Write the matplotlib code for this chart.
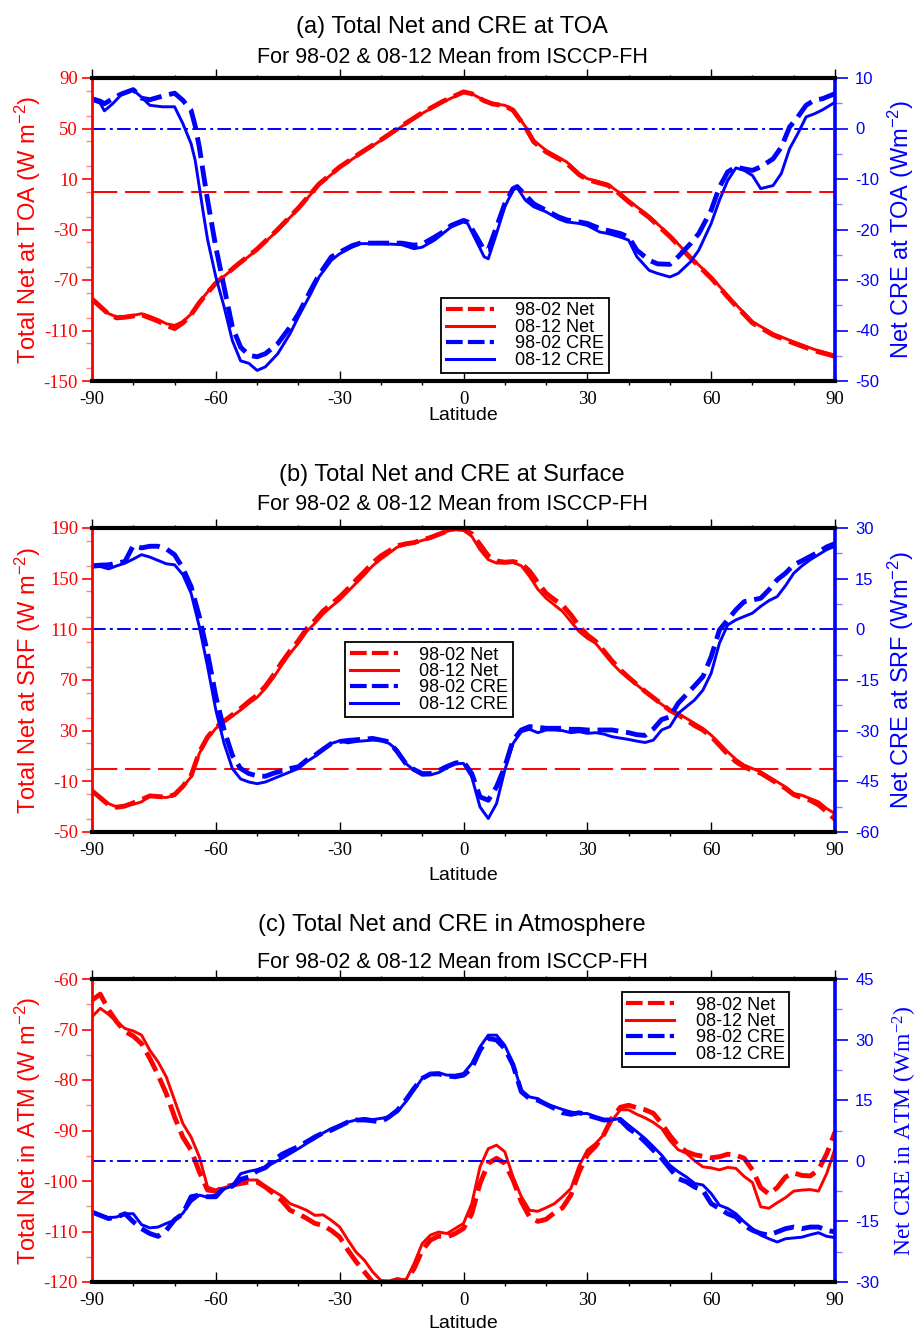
import matplotlib
matplotlib.use('Agg')
import matplotlib.pyplot as plt
from matplotlib.lines import Line2D
from matplotlib.ticker import MultipleLocator

# ---------------- data ----------------
lat_a_net = [-90, -88, -86, -84, -82, -80, -78, -76, -74, -72, -70, -68, -66, -64, -62, -60,
             -55, -50, -45, -40, -35, -30, -25, -20, -15, -10, -5,
             0, 2, 5, 7, 10, 12, 15, 17, 20, 25, 28, 30, 35, 37, 40, 45, 50, 55, 60, 65, 70,
             75, 80, 85, 90]
net_a_9802 = [-85, -91, -97, -100, -99.5, -98.5, -97.5, -100, -102.5, -106, -108.5, -104, -97.5, -88, -80, -72.5,
              -58.5, -45.5, -30, -13, 6, 19.5, 30.5, 41, 52, 62.5, 71.5,
              79, 77.5, 72, 69.5, 68, 64.5, 51, 39.5, 31.5, 22.5, 13.5, 9.5, 5, 0.5, -8, -20.5, -35.5,
              -52.5, -68.5, -87, -104, -113.5, -120, -126, -130.5]
net_a_0812 = [-86, -92, -96.6, -99.3, -98.8, -98, -96.7, -98.8, -101.4, -104.6, -106, -103, -97, -87.4, -79.5, -72.4,
              -59, -46, -30.6, -13.5, 5.5, 19, 30, 40.6, 51.5, 62, 71,
              78.5, 77.5, 72.3, 69.7, 68.4, 65, 51.5, 40.6, 32.7, 23.5, 14.2, 10.3, 5.8, 1, -7, -19.6, -34.6,
              -51.8, -67.6, -86, -103, -112.5, -119, -125, -129.6]

lat_a_cre = [-90, -88, -87, -85, -83, -80, -78, -76, -73, -70,
             -68, -66, -65, -64, -63, -62, -60, -58, -56, -54,
             -52, -50, -48, -45, -42, -40, -37, -35, -32, -30,
             -27, -25, -20, -15, -12, -10, -7, -5, -3, 0,
             1, 3, 5, 6, 8, 10, 12, 13, 15, 17,
             20, 23, 25, 28, 30, 33, 35, 38, 40, 42,
             45, 47, 50, 52, 55, 57, 60, 62, 64, 66,
             68, 70, 72, 75, 77, 79, 81, 83, 85, 87, 90]
cre_a_9802 = [5.9, 5.4, 4.9, 5.9, 6.8, 7.7, 6.0, 5.7, 6.4, 7.0,
              5.6, 3.6, 0.5, -3.7, -9.0, -14.2, -23.5, -31.4, -39.3, -43.3,
              -44.9, -45.2, -44.6, -42.6, -39.3, -36.7, -32.0, -29.0, -25.4, -24.5,
              -23.2, -22.7, -22.7, -22.7, -23.1, -22.9, -21.5, -20.5, -19.2, -18.2,
              -18.5, -21.2, -24.1, -24.0, -19.5, -14.9, -11.9, -11.5, -13.2, -14.9,
              -16.2, -17.5, -18.1, -18.5, -18.8, -19.8, -20.2, -20.8, -21.5, -24.1,
              -26.1, -26.8, -26.9, -25.4, -22.8, -20.8, -16.2, -11.6, -8.6, -7.6,
              -8.0, -8.3, -7.6, -6.0, -3.7, 0.3, 2.3, 4.6, 5.6, 5.9, 6.9]
cre_a_0812 = [5.6, 5.0, 3.5, 4.9, 6.6, 7.6, 6.2, 4.6, 4.3, 4.3,
              1.0, -3.0, -6.3, -11.6, -16.9, -22.0, -29.4, -35.3, -42.0, -46.0,
              -46.5, -47.9, -47.2, -44.6, -40.6, -37.3, -32.7, -29.4, -26.1, -24.8,
              -23.5, -22.8, -22.8, -23.0, -23.8, -23.5, -22.1, -20.8, -19.5, -18.5,
              -18.8, -22.1, -25.4, -25.8, -20.8, -15.5, -12.2, -11.7, -14.2, -15.5,
              -16.5, -17.9, -18.5, -18.8, -19.2, -20.5, -20.8, -21.5, -22.1, -25.4,
              -28.1, -28.7, -29.4, -28.7, -26.4, -24.1, -18.8, -14.2, -10.3, -7.8,
              -8.3, -9.3, -11.9, -11.3, -8.9, -4.0, -1.0, 2.3, 2.9, 3.7, 5.2]

# panels (b) and (c) on a 2-degree grid
lat2 = list(range(-90, 91, 2))

net_b_9802 = [-17.5, -23.0, -28.5, -30.5, -29.5, -27.0, -24.5, -21.5, -22.0, -22.5,
              -20.5, -14.0, -5.5, 13.0, 25.0, 32.5, 37.5, 42.5, 47.5, 53.0,
              58.0, 65.0, 74.0, 84.0, 93.0, 101.0, 110.5, 117.0, 124.5, 130.0,
              135.5, 142.0, 149.0, 155.5, 162.5, 168.0, 172.0, 176.0, 177.5, 178.5,
              180.5, 182.5, 185.0, 187.5, 189.5, 189.0, 185.5, 177.0, 168.0, 164.0,
              163.0, 163.5, 162.0, 156.0, 147.0, 138.5, 133.5, 129.0, 121.5, 112.5,
              105.5, 100.5, 93.0, 85.0, 78.0, 72.0, 66.5, 61.0, 56.0, 51.0,
              46.0, 42.5, 38.5, 34.0, 30.5, 25.5, 18.5, 11.5, 5.5, 1.5,
              -1.5, -3.5, -7.5, -11.5, -15.5, -20.5, -23.0, -25.0, -28.5, -34.0,
              -40.0]
net_b_0812 = [-18.3, -22.3, -27.6, -30.2, -28.9, -28.1, -26.2, -21.8, -22.3, -22.8,
              -21.0, -14.4, -6.5, 12.0, 24.0, 31.8, 37.0, 41.5, 46.3, 51.6,
              56.3, 63.4, 72.1, 81.9, 91.1, 99.0, 108.3, 114.8, 122.2, 128.0,
              133.3, 139.9, 146.5, 153.1, 160.2, 165.5, 170.2, 175.0, 176.8, 178.1,
              180.2, 182.1, 184.7, 187.4, 188.7, 188.2, 183.4, 172.9, 165.0, 162.3,
              162.3, 162.8, 160.2, 151.8, 141.7, 134.6, 129.3, 124.1, 116.2, 108.3,
              103.0, 99.0, 91.1, 83.2, 76.6, 71.3, 66.1, 60.8, 55.5, 50.8,
              46.3, 43.7, 39.7, 35.7, 31.8, 26.5, 19.9, 13.3, 7.3, 2.8,
              0.1, -2.5, -6.5, -10.4, -14.4, -19.6, -21.0, -23.6, -26.2, -31.5,
              -35.5]
cre_b_9802 = [18.8, 19.0, 19.1, 19.6, 20.1, 24.8, 24.1, 24.6, 24.6, 23.8,
              22.1, 18.1, 12.7, 3.8, -7.1, -19.9, -29.8, -37.3, -41.2, -42.7,
              -43.4, -43.5, -42.6, -41.9, -41.2, -40.7, -38.7, -37.3, -35.5, -33.8,
              -33.2, -32.9, -32.7, -32.5, -32.3, -32.8, -33.3, -36.3, -39.7, -41.5,
              -42.7, -42.7, -41.8, -40.6, -39.6, -39.2, -42.7, -49.6, -50.6, -46.6,
              -40.7, -32.8, -29.8, -28.8, -29.0, -29.3, -29.3, -29.3, -29.6, -29.6,
              -29.8, -29.8, -29.8, -29.8, -30.2, -30.6, -31.2, -31.4, -29.5, -26.7,
              -25.9, -21.9, -19.3, -16.7, -14.0, -8.1, -0.2, 2.8, 5.8, 8.2,
              8.7, 9.2, 11.7, 14.7, 16.6, 19.1, 20.3, 21.6, 22.9, 24.4,
              25.4]
cre_b_0812 = [18.4, 18.6, 17.9, 18.8, 19.6, 20.8, 22.1, 21.4, 20.4, 19.4,
              19.1, 16.2, 10.7, 0.8, -11.0, -23.9, -33.8, -41.2, -44.3, -45.2,
              -45.7, -45.2, -44.2, -43.2, -42.2, -41.2, -39.2, -37.6, -35.8, -33.8,
              -33.0, -33.6, -33.2, -33.0, -32.8, -32.8, -33.8, -35.8, -39.7, -41.7,
              -43.2, -43.1, -42.4, -41.0, -39.8, -39.7, -43.7, -52.6, -56.0, -51.6,
              -41.7, -33.8, -30.3, -29.6, -30.6, -29.8, -29.8, -30.0, -30.6, -30.3,
              -30.8, -30.6, -31.0, -31.8, -32.2, -32.6, -33.1, -33.5, -32.8, -29.8,
              -28.8, -24.9, -22.9, -20.9, -18.0, -13.0, -4.1, 1.3, 2.8, 3.8,
              4.8, 6.8, 8.5, 9.7, 12.9, 16.6, 18.8, 20.6, 22.1, 23.6,
              24.6]

net_c_9802 = [-64.2, -63.0, -66.1, -68.5, -70.4, -71.3, -72.8, -75.7, -79.0, -82.7,
              -87.3, -91.3, -93.9, -98.2, -101.8, -102.0, -101.2, -100.8, -100.5, -100.2,
              -100.2, -101.2, -102.5, -103.9, -105.8, -106.5, -107.4, -108.4, -108.8, -109.8,
              -111.1, -113.7, -116.0, -118.0, -120.0, -120.3, -120.1, -120.0, -119.7, -117.4,
              -113.7, -111.7, -110.9, -111.1, -110.4, -109.4, -106.5, -100.5, -96.5, -95.5,
              -96.5, -99.8, -104.1, -107.1, -108.0, -107.6, -106.3, -105.3, -102.8, -98.2,
              -94.8, -93.1, -90.8, -87.5, -85.4, -85.0, -85.5, -85.9, -86.6, -88.6,
              -91.0, -93.0, -94.2, -94.8, -95.1, -95.4, -95.2, -94.7, -94.9, -95.5,
              -97.8, -101.3, -102.6, -101.3, -99.2, -98.4, -98.9, -99.0, -97.8, -94.6,
              -90.3]
net_c_0812 = [-67.5, -65.8, -67.0, -68.5, -69.8, -70.3, -71.1, -74.1, -76.4, -79.4,
              -84.0, -88.6, -91.3, -95.2, -101.2, -101.8, -101.3, -100.9, -100.6, -99.8,
              -99.8, -101.0, -102.0, -103.0, -104.5, -105.1, -105.8, -106.8, -106.7, -107.8,
              -109.1, -111.7, -114.1, -115.7, -118.0, -119.7, -119.8, -119.3, -119.7, -116.4,
              -112.4, -110.7, -110.1, -110.4, -109.4, -108.4, -104.5, -97.2, -93.6, -92.9,
              -94.2, -99.2, -103.1, -105.8, -106.0, -105.3, -104.5, -103.1, -101.5, -97.0,
              -93.9, -92.6, -90.8, -88.0, -85.9, -85.9, -86.8, -87.5, -88.4, -89.6,
              -92.0, -93.8, -94.5, -96.0, -97.2, -97.4, -97.8, -97.3, -97.5, -99.1,
              -100.3, -105.1, -105.4, -104.3, -103.3, -102.0, -101.8, -101.7, -102.0, -98.5,
              -93.6]
cre_c_9802 = [-12.7, -13.5, -14.3, -13.9, -13.1, -15.1, -16.8, -18.0, -18.7, -17.2,
              -14.6, -13.1, -8.9, -8.5, -8.9, -8.9, -6.6, -6.3, -4.6, -4.0,
              -2.5, -1.7, 0.1, 1.6, 2.6, 3.5, 4.7, 5.9, 6.9, 7.6,
              8.6, 9.6, 10.1, 10.1, 9.9, 9.6, 10.9, 12.5, 15.0, 17.9,
              20.4, 21.5, 21.5, 21.0, 20.8, 21.2, 22.9, 27.4, 30.3, 29.9,
              27.8, 23.7, 17.1, 15.4, 15.0, 14.0, 13.0, 11.9, 11.5, 11.9,
              11.3, 10.7, 10.1, 10.1, 10.1, 8.0, 6.6, 4.7, 2.6, 0.6,
              -1.9, -4.4, -5.2, -6.5, -7.3, -10.6, -11.8, -13.1, -13.9, -16.0,
              -17.2, -18.0, -18.4, -17.6, -16.8, -16.4, -16.8, -16.4, -16.4, -17.2,
              -17.6]
cre_c_0812 = [-12.5, -13.5, -14.1, -13.9, -13.1, -13.1, -15.8, -16.6, -16.4, -15.5,
              -14.7, -13.0, -10.1, -8.5, -9.0, -8.4, -7.0, -6.2, -3.2, -2.6,
              -2.2, -1.5, -0.5, 0.6, 1.8, 3.0, 4.3, 5.5, 6.9, 8.0,
              8.8, 9.6, 10.1, 10.5, 10.2, 10.5, 10.9, 12.1, 14.6, 17.5,
              20.4, 21.6, 21.8, 21.2, 21.2, 21.6, 24.1, 28.2, 31.1, 31.1,
              28.6, 24.1, 17.5, 15.8, 15.4, 14.0, 13.4, 12.7, 12.1, 11.7,
              11.7, 10.9, 10.1, 10.1, 10.5, 8.8, 7.2, 5.5, 3.5, 1.4,
              -1.1, -2.7, -4.0, -5.6, -6.0, -8.1, -11.0, -11.8, -13.1, -15.1,
              -16.8, -18.4, -19.3, -20.1, -19.3, -19.1, -18.9, -18.3, -17.8, -18.7,
              -19.0]

legend_labels = ['98-02 Net', '08-12 Net', '98-02 CRE', '08-12 CRE']

# ---------------- style ----------------
plt.rcParams['font.family'] = 'Liberation Sans'
plt.rcParams['mathtext.fontset'] = 'custom'
plt.rcParams['mathtext.rm'] = 'Liberation Sans'
plt.rcParams['mathtext.default'] = 'regular'
plt.rcParams['axes.unicode_minus'] = False

W, H = 922, 1334
fig = plt.figure(figsize=(W / 100, H / 100), dpi=100)

DASH = (4.3, 1.6)


def panel(top, bottom, lat_net, net98, net08, lat_cre, cre98, cre08,
          ylim_l, step_l, ylim_r, step_r, red_zero, leg_anchor):
    ax = fig.add_axes([92 / W, 1 - bottom / H, 743 / W, (bottom - top) / H])
    ax2 = ax.twinx()

    if red_zero:
        ax.axhline(0, color='red', lw=1.4, dashes=(13, 4))
    ax.plot(lat_net, net98, color='red', lw=3.5, dashes=DASH)
    ax.plot(lat_net, net08, color='red', lw=2.1)

    ax2.axhline(0, color='blue', lw=1.4, dashes=(7, 2.2, 1.5, 2.2))
    ax2.plot(lat_cre, cre98, color='blue', lw=3.5, dashes=DASH)
    ax2.plot(lat_cre, cre08, color='blue', lw=2.1)

    ax.set_xlim(-90, 90)
    ax.set_xticks(range(-90, 91, 30))
    ax.xaxis.set_minor_locator(MultipleLocator(10))
    ax.set_ylim(*ylim_l)
    ax.set_yticks(range(ylim_l[0], ylim_l[1] + 1, step_l))
    ax.yaxis.set_minor_locator(MultipleLocator(step_l / 2))
    ax2.set_ylim(*ylim_r)
    ax2.set_yticks(range(ylim_r[0], ylim_r[1] + 1, step_r))
    ax2.yaxis.set_minor_locator(MultipleLocator(step_r / 2))

    # spines: drawn by the top axes only
    for s in ax.spines.values():
        s.set_visible(False)
    ax2.spines['top'].set(color='black', lw=3)
    ax2.spines['bottom'].set(color='black', lw=3)
    ax2.spines['left'].set(color='red', lw=2)
    ax2.spines['right'].set(color='blue', lw=2.6)

    # x ticks: bottom from ax, top from ax2
    ax.tick_params(axis='x', which='major', top=False, direction='in', length=7, width=1,
                   labelsize=13.5, labelfontfamily='Liberation Serif', pad=7)
    ax.tick_params(axis='x', which='minor', top=False, direction='out', length=3, width=1)
    ax2.xaxis.set_visible(True)
    ax2.tick_params(axis='x', which='both', bottom=False, labelbottom=False,
                    top=True, labeltop=False, direction='out', width=1)
    ax2.tick_params(axis='x', which='major', length=6.5)
    ax2.tick_params(axis='x', which='minor', length=2.5)

    ax.tick_params(axis='y', which='major', direction='out', length=7, width=1.2,
                   colors='red', labelsize=13.5, labelfontfamily='Liberation Serif', pad=3)
    ax.tick_params(axis='y', which='minor', direction='out', length=4.5, width=1,
                   color='#ff8080')
    ax2.tick_params(axis='y', which='major', direction='out', length=9.5, width=1.2,
                    colors='blue', labelsize=12, labelfontfamily='Liberation Sans', pad=5)
    ax2.tick_params(axis='y', which='minor', direction='out', length=5, width=1,
                    color='#8080ff')

    handles = [Line2D([], [], color='red', lw=3, dashes=(4, 1.25)),
               Line2D([], [], color='red', lw=2.2),
               Line2D([], [], color='blue', lw=3, dashes=(4, 1.25)),
               Line2D([], [], color='blue', lw=2.2)]
    leg = ax2.legend(handles, legend_labels, loc='upper left', bbox_to_anchor=leg_anchor,
                     borderaxespad=0, fontsize=13, handlelength=2.66, handletextpad=1.2,
                     labelspacing=-0.03, borderpad=0.25, fancybox=False,
                     edgecolor='black', framealpha=1)
    leg.get_frame().set_linewidth(1.3)
    return ax, ax2


def fig_text(x, y, s, **kw):
    fig.text(x / W, 1 - y / H, s, ha='center', va='center', **kw)


# (a) TOA
panel(78, 381, lat_a_net, net_a_9802, net_a_0812, lat_a_cre, cre_a_9802, cre_a_0812,
      (-150, 90), 40, (-50, 10), 10, True, (0.470, 0.274))
fig_text(452, 27, '(a) Total Net and CRE at TOA', fontsize=17)
fig_text(452, 57.5, 'For 98-02 & 08-12 Mean from ISCCP-FH', fontsize=15.5)
fig_text(28, 229.5, 'Total Net at TOA (W m$^{-2}$)', fontsize=17, color='red', rotation=90)
fig_text(901, 229.5, 'Net CRE at TOA (Wm$^{-2}$)', fontsize=17, color='blue', rotation=90)
fig_text(463.5, 415, 'Latitude', fontsize=14)

# (b) Surface
panel(528, 832, lat2, net_b_9802, net_b_0812, lat2, cre_b_9802, cre_b_0812,
      (-50, 190), 40, (-60, 30), 15, True, (0.3405, 0.625))
fig_text(452, 475, '(b) Total Net and CRE at Surface', fontsize=17)
fig_text(452, 505, 'For 98-02 & 08-12 Mean from ISCCP-FH', fontsize=15.5)
fig_text(28, 680, 'Total Net at SRF (W m$^{-2}$)', fontsize=17, color='red', rotation=90)
fig_text(901, 680, 'Net CRE at SRF (Wm$^{-2}$)', fontsize=17, color='blue', rotation=90)
fig_text(463.5, 875, 'Latitude', fontsize=14)

# (c) Atmosphere
panel(979, 1282, lat2, net_c_9802, net_c_0812, lat2, cre_c_9802, cre_c_0812,
      (-120, -60), 10, (-30, 45), 15, False, (0.713, 0.957))
fig_text(452, 925, '(c) Total Net and CRE in Atmosphere', fontsize=17)
fig_text(452, 962, 'For 98-02 & 08-12 Mean from ISCCP-FH', fontsize=15.5)
fig_text(28, 1130.5, 'Total Net in ATM (W m$^{-2}$)', fontsize=17, color='red', rotation=90)
fig_text(905, 1130.5, 'Net CRE in ATM (Wm$^{-2}$)', fontsize=17, color='blue', rotation=90,
         family='Liberation Serif', math_fontfamily='stix')
fig_text(463.5, 1323, 'Latitude', fontsize=14)

fig.savefig('out.png', dpi=100)
